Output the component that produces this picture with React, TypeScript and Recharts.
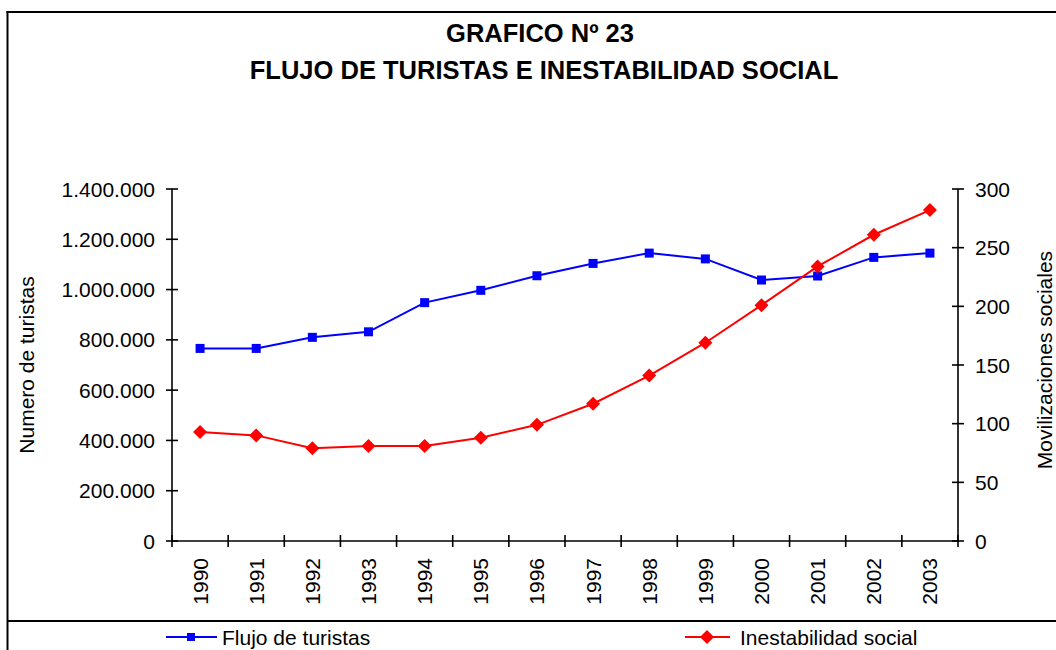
import React from 'react';
import { LineChart, Line, XAxis, YAxis } from 'recharts';

const years = ['1990', '1991', '1992', '1993', '1994', '1995', '1996', '1997', '1998', '1999', '2000', '2001', '2002', '2003'];
const turistas = [766000, 766000, 810000, 832000, 948000, 997000, 1055000, 1104000, 1145000, 1122000, 1038000, 1054000, 1128000, 1145000];
const movilizaciones = [93, 90, 79, 81, 81, 88, 99, 117, 141, 169, 201, 234, 261, 282];
const leftTicks = [0, 200000, 400000, 600000, 800000, 1000000, 1200000, 1400000];
const rightTicks = [0, 50, 100, 150, 200, 250, 300];
const seriesNames = ['Flujo de turistas', 'Inestabilidad social'];
const seriesColors = ['#0000FF', '#FF0000'];
const titleLines = ['GRAFICO Nº 23', 'FLUJO DE TURISTAS E INESTABILIDAD SOCIAL'];
const leftTitle = 'Numero de turistas';
const rightTitle = 'Movilizaciones sociales';

const data = years.map((y, i) => ({ year: y, turistas: turistas[i], mov: movilizaciones[i] }));

const W = 1056;
const H = 650;
const PLOT_LEFT = 172;
const PLOT_RIGHT = 958;
const PLOT_TOP = 189;
const PLOT_BOTTOM = 541;
const FONT = "'Liberation Sans', Arial, Helvetica, sans-serif";
const AX = 1.6;
const TICK_FS = 21;

const fmt = (v: number) => String(v).replace(/\B(?=(\d{3})+(?!\d))/g, '.');

const XTick = (props: any) => {
  const { x, y, payload, index } = props;
  const bw = (PLOT_RIGHT - PLOT_LEFT) / years.length;
  const l = x - bw / 2;
  const r = x + bw / 2;
  return (
    <g>
      <line x1={l} x2={l} y1={PLOT_BOTTOM - 6} y2={PLOT_BOTTOM + 6} stroke="#000" strokeWidth={AX} />
      {index === years.length - 1 && (
        <line x1={r} x2={r} y1={PLOT_BOTTOM - 6} y2={PLOT_BOTTOM + 6} stroke="#000" strokeWidth={AX} />
      )}
      <text
        x={x}
        y={y}
        transform={`rotate(-90 ${x} ${y})`}
        textAnchor="end"
        dy="0.36em"
        fontSize={TICK_FS}
        fontFamily={FONT}
        fill="#000"
      >
        {payload.value}
      </text>
    </g>
  );
};

const LeftTick = (props: any) => {
  const { x, y, payload } = props;
  return (
    <g>
      <line x1={PLOT_LEFT - 6} x2={PLOT_LEFT + 6} y1={y} y2={y} stroke="#000" strokeWidth={AX} />
      <text x={x} y={y} textAnchor="end" dy="0.36em" fontSize={TICK_FS} fontFamily={FONT} fill="#000">
        {fmt(payload.value)}
      </text>
    </g>
  );
};

const RightTick = (props: any) => {
  const { x, y, payload } = props;
  return (
    <g>
      <line x1={PLOT_RIGHT - 6} x2={PLOT_RIGHT + 6} y1={y} y2={y} stroke="#000" strokeWidth={AX} />
      <text x={x} y={y} textAnchor="start" dy="0.36em" fontSize={TICK_FS} fontFamily={FONT} fill="#000">
        {payload.value}
      </text>
    </g>
  );
};

const SquareDot = (props: any) => {
  const { cx, cy } = props;
  if (cx == null || cy == null) return null;
  return <rect x={cx - 4.5} y={cy - 4.5} width={9} height={9} fill={seriesColors[0]} />;
};

const DiamondDot = (props: any) => {
  const { cx, cy } = props;
  if (cx == null || cy == null) return null;
  const s = 7;
  return <polygon points={`${cx},${cy - s} ${cx + s},${cy} ${cx},${cy + s} ${cx - s},${cy}`} fill={seriesColors[1]} />;
};

export default function App() {
  return (
    <div style={{ position: 'absolute', left: 0, top: 0, width: W, height: H, overflow: 'hidden', background: '#fff', fontFamily: FONT }}>
      <svg width={W} height={H} style={{ position: 'absolute', left: 0, top: 0 }}>
        <line x1={7.5} x2={7.5} y1={11} y2={H} stroke="#000" strokeWidth={2} />
        <line x1={6.5} x2={W} y1={12} y2={12} stroke="#000" strokeWidth={2} />
        <line x1={7.5} x2={W} y1={621} y2={621} stroke="#000" strokeWidth={2} />
        <text x={540} y={33} textAnchor="middle" dy="0.36em" fontSize={25.5} fontWeight="bold" fontFamily={FONT} fill="#000">
          {titleLines[0]}
        </text>
        <text x={544} y={70} textAnchor="middle" dy="0.36em" fontSize={25.5} fontWeight="bold" fontFamily={FONT} fill="#000">
          {titleLines[1]}
        </text>
        <text x={26} y={365} transform="rotate(-90 26 365)" textAnchor="middle" dy="0.36em" fontSize={21} fontFamily={FONT} fill="#000">
          {leftTitle}
        </text>
        <text x={1044} y={360} transform="rotate(-90 1044 360)" textAnchor="middle" dy="0.36em" fontSize={21} fontFamily={FONT} fill="#000">
          {rightTitle}
        </text>
        <g>
          <line x1={166} x2={217} y1={637} y2={637} stroke={seriesColors[0]} strokeWidth={2} />
          <rect x={187} y={633} width={8} height={8} fill={seriesColors[0]} />
          <text x={222} y={637} dy="0.36em" fontSize={21} fontFamily={FONT} fill="#000">{seriesNames[0]}</text>
        </g>
        <g>
          <line x1={685} x2={730} y1={637} y2={637} stroke={seriesColors[1]} strokeWidth={2} />
          <polygon points="707,630 714,637 707,644 700,637" fill={seriesColors[1]} />
          <text x={740} y={637} dy="0.36em" fontSize={21} fontFamily={FONT} fill="#000">{seriesNames[1]}</text>
        </g>
      </svg>
      <div style={{ position: 'absolute', left: 0, top: 0 }}>
        <LineChart width={W} height={H} data={data} margin={{ top: PLOT_TOP, right: 0, bottom: 0, left: 0 }}>
          <XAxis
            dataKey="year"
            scale="band"
            interval={0}
            height={H - PLOT_BOTTOM}
            axisLine={{ stroke: '#000', strokeWidth: AX }}
            tickLine={false}
            tickSize={6}
            tickMargin={11}
            tick={<XTick />}
          />
          <YAxis
            yAxisId="left"
            orientation="left"
            width={PLOT_LEFT}
            domain={[0, 1400000]}
            ticks={leftTicks}
            interval={0}
            axisLine={{ stroke: '#000', strokeWidth: AX }}
            tickLine={false}
            tickSize={6}
            tickMargin={11}
            tick={<LeftTick />}
          />
          <YAxis
            yAxisId="right"
            orientation="right"
            width={W - PLOT_RIGHT}
            domain={[0, 300]}
            ticks={rightTicks}
            interval={0}
            axisLine={{ stroke: '#000', strokeWidth: AX }}
            tickLine={false}
            tickSize={6}
            tickMargin={11}
            tick={<RightTick />}
          />
          <Line
            yAxisId="left"
            type="linear"
            dataKey="turistas"
            name={seriesNames[0]}
            stroke={seriesColors[0]}
            strokeWidth={2}
            dot={<SquareDot />}
            activeDot={false}
            isAnimationActive={false}
          />
          <Line
            yAxisId="right"
            type="linear"
            dataKey="mov"
            name={seriesNames[1]}
            stroke={seriesColors[1]}
            strokeWidth={2}
            dot={<DiamondDot />}
            activeDot={false}
            isAnimationActive={false}
          />
        </LineChart>
      </div>
    </div>
  );
}
